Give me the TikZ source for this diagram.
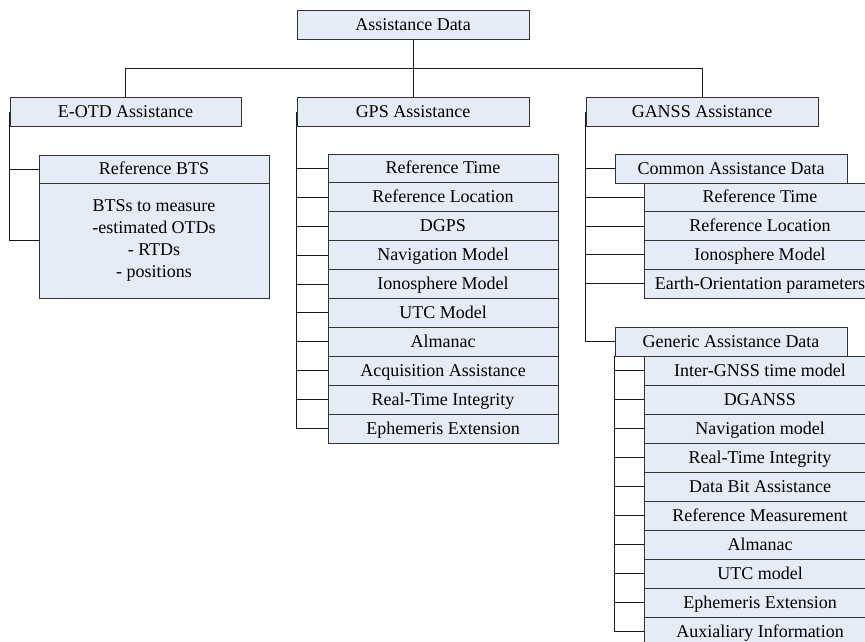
\documentclass[tikz,border=0pt]{standalone}
\usepackage{fontspec}
\setmainfont{Liberation Serif}
\definecolor{boxfill}{HTML}{E6ECF7}
\definecolor{boxline}{HTML}{333333}
\definecolor{wire}{HTML}{1A1A1A}
\begin{document}
\begin{tikzpicture}[x=1pt,y=-1pt,
  framed/.style={draw=boxline, fill=boxfill, line width=0.9pt, inner sep=0pt,
    font=\fontsize{18}{22}\selectfont, anchor=center},
  cell/.style={framed, minimum width=#1, minimum height=29pt,
    text height=14pt, text depth=3pt},
  cell/.default=232pt,
  wirestyle/.style={draw=wire, line width=1pt}]
\useasboundingbox (0,0) rectangle (865,641);
\clip (0,0) rectangle (865,641);

% top level
\node[cell] (top) at (413,24.5) {Assistance Data};
\coordinate (bus) at (413,68);

% second level
\node[cell=231pt] (eotd) at (125.5,111.5) {E-OTD Assistance};
\node[cell] (gps) at (413,111.5) {GPS Assistance};
\node[cell] (ganss) at (702,111.5) {GANSS Assistance};

\draw[wirestyle] (top.south) -- (gps.north);
\draw[wirestyle] (eotd.north) -- (eotd.north |- bus) -- (ganss.north |- bus) -- (ganss.north);

% E-OTD branch
\node[cell=230pt, minimum height=28pt] (bts) at (154,169) {Reference BTS};
\node[framed, minimum width=230pt, minimum height=115pt] (btsbody) at (154,240.5) {};
\node[font=\fontsize{18}{22}\selectfont, align=center, inner sep=0pt, anchor=north] (btstext) at (154,199.5)
  {BTSs to measure\\-estimated OTDs\\- RTDs\\- positions};
\draw[wirestyle] (eotd.west) |- (btsbody.west);
\draw[wirestyle] (eotd.west |- bts.west) -- (bts.west);

% GPS branch
\foreach \t [count=\i] in {Reference Time, Reference Location, DGPS, Navigation Model,
  Ionosphere Model, UTC Model, Almanac, Acquisition Assistance,
  Real-Time Integrity, Ephemeris Extension}{
  \node[cell=230pt, minimum height=28.9pt] (g\i) at (443,{168.45+(\i-1)*28.9}) {\t};
}
\draw[wirestyle] (gps.west) |- (g10.west);
\foreach \i in {1,...,9}{
  \draw[wirestyle] (gps.west |- g\i.west) -- (g\i.west);
}

% GANSS branch: common data
\node[cell] (common) at (731,168.5) {Common Assistance Data};
\foreach \t [count=\i] in {Reference Time, Reference Location, Ionosphere Model,
  Earth-Orientation parameters}{
  \node[cell, minimum height=28.75pt] (c\i) at (760,{197.4+(\i-1)*28.75}) {\t};
}

% GANSS branch: generic data
\node[cell] (generic) at (731,341.5) {Generic Assistance Data};
\foreach \t [count=\i] in {Inter-GNSS time model, DGANSS, Navigation model,
  Real-Time Integrity, Data Bit Assistance, Reference Measurement, Almanac,
  UTC model, Ephemeris Extension, Auxialiary Information}{
  \node[cell, minimum height=29pt] (n\i) at (760,{370.5+(\i-1)*29}) {\t};
}

\draw[wirestyle] (ganss.west) |- (generic.west);
\draw[wirestyle] (ganss.west |- common.west) -- (common.west);
\foreach \i in {1,...,4}{
  \draw[wirestyle] (ganss.west |- c\i.west) -- (c\i.west);
}
\draw[wirestyle] (generic.south west) |- (n10.west);
\foreach \i in {1,...,9}{
  \draw[wirestyle] (generic.south west |- n\i.west) -- (n\i.west);
}
\end{tikzpicture}
\end{document}
